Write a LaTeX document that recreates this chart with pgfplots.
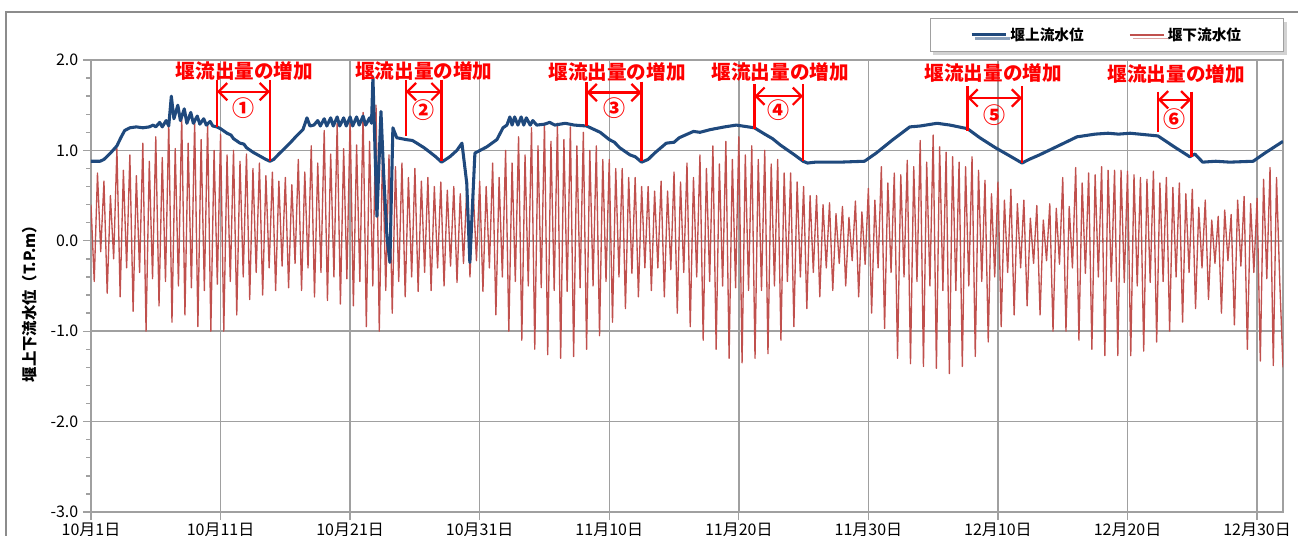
\documentclass[border=0pt]{standalone}
\usepackage{fontspec}
\setmainfont{Noto Sans CJK JP}
\usepackage{pgfplots}
\pgfplotsset{compat=1.18}
\usetikzlibrary{shadows,arrows.meta}

\definecolor{upblue}{HTML}{1F497D}
\definecolor{downred}{HTML}{C0504D}
\definecolor{axgray}{HTML}{A0A0A0}
\definecolor{framegray}{HTML}{8C8C8C}
\definecolor{annred}{HTML}{FF0000}

% one annotation: two vertical markers, a double arrow and a number
\newcommand{\releasemark}[8]{%
  % #1 left day, #2 left bottom, #3 right day, #4 right bottom,
  % #5 top of markers, #6 arrow level, #7 number level, #8 number
  \draw[annred, line width=1.9pt] (axis cs:#1,#5) -- (axis cs:#1,#2);
  \draw[annred, line width=1.9pt] (axis cs:#3,#5) -- (axis cs:#3,#4);
  \draw[annred, line width=1.7pt, {Straight Barb[length=6.5pt,width=13pt]}-{Straight Barb[length=6.5pt,width=13pt]}]
    (axis cs:#1,#6) -- (axis cs:#3,#6);
  \node[annred, font=\bfseries\fontsize{16.5}{17}\selectfont, inner sep=0pt] at (axis cs:{(#1+#3)/2},#7) {#8};
}

\begin{document}
\begin{tikzpicture}
\begin{axis}[
  scale only axis,
  width=894pt, height=339pt,
  xmin=0, xmax=92, ymin=-3, ymax=2,
  axis line style={draw=axgray, line width=1.1pt},
  grid=major,
  major grid style={draw=axgray, line width=1.1pt},
  xtick={0,10,...,90},
  xticklabels={10月1日,10月11日,10月21日,10月31日,11月10日,11月20日,11月30日,12月10日,12月20日,12月30日},
  ytick={-3,-2,-1,0,1,2},
  minor y tick num=4,
  tick align=outside,
  major tick length=6pt, minor tick length=3.5pt,
  every tick/.style={draw=axgray, line width=1pt},
  xtick pos=bottom, ytick pos=left,
  /pgf/number format/assume math mode=true,
  yticklabel style={/pgf/number format/.cd, fixed, fixed zerofill, precision=1},
  tick label style={font=\fontsize{12}{14}\selectfont, text=black},
  xticklabel style={yshift=1pt},
  ylabel={堰上下流水位（T.P.m）},
  ylabel style={at={(axis description cs:-0.0512,0.469)}, anchor=center,
    font=\bfseries\fontsize{11.5}{13}\selectfont},
  legend columns=2,
  reverse legend,
  legend image code/.code={\draw[#1] (0pt,0pt) -- (26pt,0pt);},
  legend style={at={(axis description cs:1,1)}, anchor=south east,
    xshift=1pt, yshift=6pt,
    draw=axgray, line width=0.8pt, fill=white,
    drop shadow={shadow xshift=2.5pt, shadow yshift=-2.5pt, fill=black!35},
    font=\bfseries\fontsize{11}{13}\selectfont,
    inner xsep=30pt, inner ysep=5pt,
    /tikz/every even column/.append style={column sep=32pt}},
]

% downstream level (tidal)
\addplot[downred, line width=1pt, line join=round] coordinates {
(0.00,0.40) (0.25,-0.45) (0.50,0.75) (0.75,-0.12)
(1.00,0.66) (1.25,-0.58) (1.50,0.50) (1.75,-0.20)
(2.00,1.02) (2.25,-0.62) (2.50,0.78) (2.75,-0.30)
(3.00,0.95) (3.25,-0.78) (3.50,0.72) (3.75,-0.35)
(4.00,1.08) (4.25,-1.00) (4.50,0.88) (4.75,-0.42)
(5.00,1.15) (5.25,-0.72) (5.50,0.92) (5.75,-0.45)
(6.00,1.30) (6.25,-0.90) (6.50,1.02) (6.75,-0.50)
(7.00,1.38) (7.25,-0.82) (7.50,1.08) (7.75,-0.52)
(8.00,1.33) (8.25,-0.95) (8.50,1.12) (8.75,-0.55)
(9.00,1.30) (9.25,-1.00) (9.50,1.00) (9.75,-0.48)
(10.00,1.18) (10.25,-1.00) (10.50,0.95) (10.75,-0.45)
(11.00,1.00) (11.25,-0.82) (11.50,0.88) (11.75,-0.40)
(12.00,0.96) (12.25,-0.65) (12.50,0.80) (12.75,-0.35)
(13.00,0.86) (13.25,-0.60) (13.50,0.72) (13.75,-0.30)
(14.00,0.76) (14.25,-0.55) (14.50,0.66) (14.75,-0.28)
(15.00,0.70) (15.25,-0.52) (15.50,0.62) (15.75,-0.25)
(16.00,0.90) (16.25,-0.55) (16.50,0.76) (16.75,-0.30)
(17.00,1.05) (17.25,-0.62) (17.50,0.86) (17.75,-0.35)
(18.00,1.22) (18.25,-0.66) (18.50,0.96) (18.75,-0.40)
(19.00,1.30) (19.25,-0.70) (19.50,1.02) (19.75,-0.42)
(20.00,1.35) (20.25,-0.72) (20.50,1.06) (20.75,-0.45)
(21.00,1.42) (21.25,-0.95) (21.50,1.10) (21.75,-0.50)
(22.00,1.50) (22.25,-1.00) (22.50,1.00) (22.75,-0.55)
(23.00,0.95) (23.25,-0.80) (23.50,0.82) (23.75,-0.45)
(24.00,0.86) (24.25,-0.62) (24.50,0.70) (24.75,-0.40)
(25.00,0.80) (25.25,-0.56) (25.50,0.66) (25.75,-0.35)
(26.00,0.70) (26.25,-0.55) (26.50,0.60) (26.75,-0.30)
(27.00,0.65) (27.25,-0.50) (27.50,0.56) (27.75,-0.28)
(28.00,0.60) (28.25,-0.46) (28.50,0.52) (28.75,-0.25)
(29.00,0.56) (29.25,-0.40) (29.50,0.55) (29.75,-0.22)
(30.00,0.66) (30.25,-0.56) (30.50,0.60) (30.75,-0.30)
(31.00,0.86) (31.25,-0.82) (31.50,0.70) (31.75,-0.40)
(32.00,1.00) (32.25,-1.00) (32.50,0.86) (32.75,-0.45)
(33.00,1.15) (33.25,-1.10) (33.50,0.95) (33.75,-0.50)
(34.00,1.25) (34.25,-1.20) (34.50,1.05) (34.75,-0.52)
(35.00,1.30) (35.25,-1.26) (35.50,1.10) (35.75,-0.55)
(36.00,1.30) (36.25,-1.30) (36.50,1.12) (36.75,-0.56)
(37.00,1.26) (37.25,-1.28) (37.50,1.05) (37.75,-0.52)
(38.00,1.20) (38.25,-1.20) (38.50,1.00) (38.75,-0.50)
(39.00,1.05) (39.25,-1.05) (39.50,0.90) (39.75,-0.45)
(40.00,0.90) (40.25,-0.90) (40.50,0.80) (40.75,-0.40)
(41.00,0.80) (41.25,-0.75) (41.50,0.70) (41.75,-0.36)
(42.00,0.70) (42.25,-0.62) (42.50,0.60) (42.75,-0.30)
(43.00,0.60) (43.25,-0.55) (43.50,0.55) (43.75,-0.30)
(44.00,0.66) (44.25,-0.62) (44.50,0.55) (44.75,-0.32)
(45.00,0.76) (45.25,-0.80) (45.50,0.65) (45.75,-0.35)
(46.00,0.86) (46.25,-0.95) (46.50,0.70) (46.75,-0.40)
(47.00,0.95) (47.25,-1.10) (47.50,0.80) (47.75,-0.45)
(48.00,1.05) (48.25,-1.20) (48.50,0.85) (48.75,-0.50)
(49.00,1.10) (49.25,-1.30) (49.50,0.90) (49.75,-0.52)
(50.00,1.15) (50.25,-1.35) (50.50,0.95) (50.75,-0.55)
(51.00,1.05) (51.25,-1.30) (51.50,0.90) (51.75,-0.55)
(52.00,1.00) (52.25,-1.25) (52.50,0.85) (52.75,-0.50)
(53.00,0.90) (53.25,-1.10) (53.50,0.75) (53.75,-0.45)
(54.00,0.75) (54.25,-0.95) (54.50,0.65) (54.75,-0.40)
(55.00,0.60) (55.25,-0.75) (55.50,0.50) (55.75,-0.35)
(56.00,0.50) (56.25,-0.62) (56.50,0.40) (56.75,-0.30)
(57.00,0.42) (57.25,-0.55) (57.50,0.30) (57.75,-0.25)
(58.00,0.38) (58.25,-0.50) (58.50,0.26) (58.75,-0.22)
(59.00,0.44) (59.25,-0.62) (59.50,0.32) (59.75,-0.26)
(60.00,0.58) (60.25,-0.80) (60.50,0.45) (60.75,-0.30)
(61.00,0.82) (61.25,-0.97) (61.50,0.64) (61.75,-0.35)
(62.00,0.75) (62.25,-1.30) (62.50,0.73) (62.75,-0.40)
(63.00,0.89) (63.25,-1.36) (63.50,0.82) (63.75,-0.45)
(64.00,1.11) (64.25,-1.39) (64.50,0.87) (64.75,-0.50)
(65.00,1.17) (65.25,-1.41) (65.50,1.04) (65.75,-0.55)
(66.00,0.98) (66.25,-1.47) (66.50,0.93) (66.75,-0.55)
(67.00,0.87) (67.25,-1.39) (67.50,0.82) (67.75,-0.50)
(68.00,0.93) (68.25,-1.28) (68.50,0.78) (68.75,-0.45)
(69.00,0.67) (69.25,-1.12) (69.50,0.52) (69.75,-0.40)
(70.00,0.65) (70.25,-0.95) (70.50,0.45) (70.75,-0.35)
(71.00,0.57) (71.25,-0.82) (71.50,0.41) (71.75,-0.30)
(72.00,0.45) (72.25,-0.72) (72.50,0.25) (72.75,-0.25)
(73.00,0.39) (73.25,-0.82) (73.50,0.23) (73.75,-0.22)
(74.00,0.41) (74.25,-1.00) (74.50,0.36) (74.75,-0.26)
(75.00,0.70) (75.25,-1.00) (75.50,0.38) (75.75,-0.30)
(76.00,0.81) (76.25,-1.10) (76.50,0.64) (76.75,-0.36)
(77.00,0.75) (77.25,-1.20) (77.50,0.73) (77.75,-0.40)
(78.00,0.82) (78.25,-1.27) (78.50,0.78) (78.75,-0.45)
(79.00,0.78) (79.25,-1.27) (79.50,0.78) (79.75,-0.46)
(80.00,0.77) (80.25,-1.27) (80.50,0.73) (80.75,-0.50)
(81.00,0.70) (81.25,-1.22) (81.50,0.68) (81.75,-0.46)
(82.00,0.77) (82.25,-1.12) (82.50,0.64) (82.75,-0.45)
(83.00,0.70) (83.25,-1.00) (83.50,0.59) (83.75,-0.40)
(84.00,0.64) (84.25,-0.90) (84.50,0.52) (84.75,-0.35)
(85.00,0.57) (85.25,-0.75) (85.50,0.37) (85.75,-0.30)
(86.00,0.45) (86.25,-0.65) (86.50,0.23) (86.75,-0.25)
(87.00,0.27) (87.25,-0.80) (87.50,0.34) (87.75,-0.22)
(88.00,0.29) (88.25,-0.93) (88.50,0.45) (88.75,-0.28)
(89.00,0.49) (89.25,-1.20) (89.50,0.41) (89.75,-0.35)
(90.00,0.47) (90.25,-1.33) (90.50,0.68) (90.75,-0.42)
(91.00,0.81) (91.25,-1.38) (91.50,0.70) (91.75,-0.45)
(92.00,-1.40)
};
\addlegendentry{堰下流水位}

% upstream level
\addplot[upblue, line width=2.3pt, line join=round] coordinates {
(0,0.88) (0.7,0.88) (1.0,0.90) (1.5,0.97) (2.0,1.05) (2.3,1.14) (2.6,1.22)
(3.0,1.25) (3.5,1.26) (4.0,1.25) (4.5,1.26) (4.8,1.28) (5.0,1.26) (5.3,1.31)
(5.5,1.26) (5.8,1.33) (6.0,1.27) (6.2,1.60) (6.4,1.35) (6.7,1.50) (6.9,1.33)
(7.2,1.46) (7.4,1.30) (7.7,1.42) (7.9,1.30) (8.2,1.38) (8.4,1.29) (8.7,1.35)
(8.9,1.28) (9.2,1.32) (9.4,1.27) (9.72,1.26) (10.0,1.24) (10.5,1.19) (10.8,1.17)
(11.0,1.13) (11.5,1.08) (11.8,1.07) (12.0,1.03) (12.5,0.98) (13.0,0.94) (13.5,0.90) (13.81,0.88)
(14.1,0.90) (14.5,0.96) (15.0,1.03) (15.35,1.08) (15.8,1.15) (16.36,1.23)
(16.67,1.36) (16.9,1.27) (17.2,1.28) (17.5,1.33) (17.7,1.27) (18.0,1.35)
(18.2,1.27) (18.5,1.36) (18.7,1.27) (19.0,1.37) (19.2,1.27) (19.5,1.36)
(19.7,1.27) (20.0,1.37) (20.2,1.27) (20.5,1.37) (20.7,1.28) (21.0,1.38)
(21.2,1.28) (21.5,1.36) (21.65,1.30) (21.76,1.81) (22.07,0.27) (22.38,1.43)
(22.6,0.70) (22.84,0.05) (23.07,-0.24) (23.3,1.25) (23.6,1.14) (24.3,1.12)
(24.8,1.11) (25.15,1.08) (25.7,1.03) (26.16,0.98) (26.6,0.93) (27.06,0.87) (27.7,0.93) (28.24,1.00) (28.63,1.08)
(29.0,0.64) (29.24,-0.24) (29.63,0.97) (30.56,1.04) (31.33,1.12) (31.8,1.25)
(32.1,1.28) (32.33,1.37) (32.5,1.28) (32.7,1.37) (32.95,1.28) (33.2,1.37)
(33.4,1.28) (33.6,1.36) (33.9,1.28) (34.1,1.33) (34.4,1.28) (35.0,1.29)
(35.4,1.31) (35.8,1.28) (36.2,1.29) (36.6,1.30) (37.3,1.28) (38.25,1.27)
(39.3,1.20) (40.0,1.12) (40.4,1.09) (40.8,1.03) (41.6,0.95) (42.0,0.93) (42.5,0.87) (43.0,0.90) (43.5,0.97)
(44.4,1.08) (45.0,1.09) (45.4,1.14) (46.5,1.21) (47.0,1.20) (47.8,1.23) (48.9,1.26) (49.8,1.28)
(51.2,1.25) (52.0,1.18) (52.6,1.13) (53.2,1.06) (54.3,0.95) (54.96,0.88) (55.3,0.86) (55.9,0.87)
(57.8,0.87) (59.7,0.88) (60.6,0.97) (61.9,1.12) (63.2,1.26) (64.0,1.27) (65.3,1.30)
(66.3,1.28) (67.65,1.24) (68.6,1.14) (69.8,1.03) (70.9,0.94) (71.86,0.86)
(72.4,0.90) (73.2,0.95) (74.8,1.06) (76.1,1.15) (77.5,1.18) (78.5,1.19) (79.3,1.18) (80.2,1.19) (82.35,1.16)
(83.6,1.04) (84.8,0.93) (85.2,0.96) (85.8,0.87) (86.8,0.88) (87.9,0.87) (89.7,0.88)
(90.6,0.97) (92.0,1.10)
};
\addlegendentry{堰上流水位}

% periods of increased weir discharge
\releasemark{9.72}{1.26}{13.81}{0.88}{1.78}{1.65}{1.47}{①}
\releasemark{24.3}{1.16}{27.06}{0.88}{1.78}{1.65}{1.45}{②}
\releasemark{38.25}{1.27}{42.5}{0.88}{1.76}{1.64}{1.47}{③}
\releasemark{51.2}{1.24}{54.96}{0.88}{1.73}{1.60}{1.45}{④}
\releasemark{67.65}{1.22}{71.86}{0.86}{1.71}{1.58}{1.39}{⑤}
\releasemark{82.35}{1.20}{84.93}{0.93}{1.65}{1.56}{1.35}{⑥}
\begin{scope}[every node/.style={annred, font=\bfseries\fontsize{14.7}{16}\selectfont, inner sep=0pt}]
\node at (axis cs:11.84,1.88) {堰流出量の増加};
\node at (axis cs:25.7,1.88) {堰流出量の増加};
\node at (axis cs:40.6,1.87) {堰流出量の増加};
\node at (axis cs:53.2,1.87) {堰流出量の増加};
\node at (axis cs:69.64,1.86) {堰流出量の増加};
\node at (axis cs:83.76,1.84) {堰流出量の増加};
\end{scope}
\end{axis}
% chart frame
\draw[framegray, line width=1.5pt] (-63.75pt,-60pt) rectangle (915pt,375pt);
\pgfresetboundingbox
\useasboundingbox (-68.25pt,-17.25pt) rectangle (905.25pt,384pt);
\end{tikzpicture}
\end{document}
